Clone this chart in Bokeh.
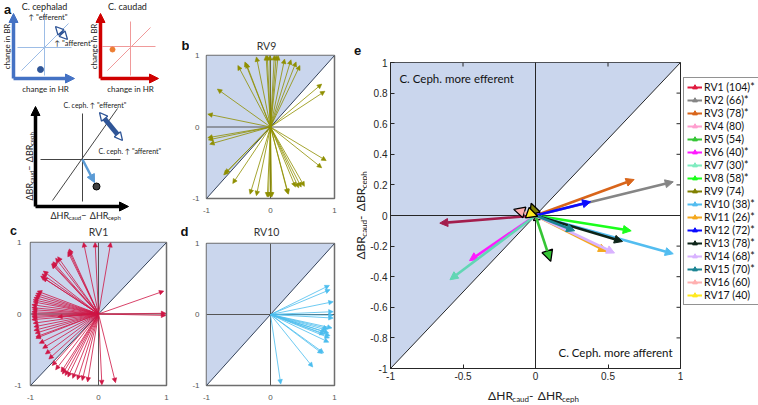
import numpy as np
from bokeh.plotting import figure
from bokeh.models import (ColumnDataSource, Arrow, NormalHead, Label, Range1d,
                          FixedTicker, Legend, LegendItem)
from bokeh.layouts import row, column
from bokeh.embed import file_html
from bokeh.resources import INLINE

# ---------------- data ----------------
e_labels = ["RV1 (104)*", "RV2 (66)*", "RV3 (78)*", "RV4 (80)", "RV5 (54)",
            "RV6 (40)*", "RV7 (30)*", "RV8 (58)*", "RV9 (74)", "RV10 (38)*",
            "RV11 (26)*", "RV12 (72)*", "RV13 (78)*", "RV14 (68)*", "RV15 (70)*",
            "RV16 (60)", "RV17 (40)"]
e_dx = [-0.66, 0.95, 0.68, 0.07, 0.105, -0.455, -0.59, 0.66, -0.03, 0.95,
        0.49, 0.38, 0.60, 0.545, 0.27, -0.15, 0.015]
e_dy = [-0.05, 0.22, 0.235, -0.02, -0.30, -0.295, -0.42, -0.10, 0.08, -0.25,
        -0.235, 0.09, -0.17, -0.245, -0.10, 0.04, -0.005]
e_signif = [True, True, True, False, False, True, True, True, False, True,
            True, True, True, True, True, False, False]
e_colors = ["#e01b3f", "#858585", "#d9651a", "#ff9fcf", "#35c535", "#ff1aff",
            "#7fecc0", "#1bff1b", "#808000", "#53bdf0", "#f4a81e", "#0b0bff",
            "#0d2418", "#d9b3ff", "#1b8493", "#ffb0b0", "#ffe91f"]
e_arrow_colors = ["#a31e4d"] + e_colors[1:6] + ["#62d6b4"] + e_colors[7:]

# panel b: RV9
b_dx = [-0.07, -0.05, -0.01, 0.06, 0.09, 0.12, -0.22, -0.40, -0.38, -0.51, 0.22, 0.32,
        0.40, 0.46, -0.83, 0.80, 0.85, -0.98, -0.98, -0.97, -0.95, -0.73, -0.71, -0.59,
        -0.32, -0.22, -0.05, -0.03, 0.0, 0.02, 0.27, 0.28, 0.39, 0.44, 0.48, 0.53, 0.80, 0.87]
b_dy = [1.0, 1.0, 1.0, 1.0, 1.0, 1.0, 0.98, 0.91, 0.89, 0.86, 0.95, 0.94,
        0.91, 0.86, 0.53, 0.60, 0.50, 0.18, -0.15, -0.18, -0.24, -0.67, -0.65, -0.79,
        -0.94, -0.96, -0.98, -0.98, -0.98, -0.98, -0.93, -0.94, -0.84, -0.85, -0.84, -0.83, -0.57, -0.47]
# panel c: RV1
c_dx = [-0.22, -0.05, 0.18, -0.44, -0.43, -0.45, -0.60, -0.63, -0.68, -0.69, -0.67, -0.81,
        -0.83, -0.85, -0.82, -0.90, -0.92, -0.93, -0.95, -0.96, -0.96, -0.98, -0.98, -0.97,
        -0.98, -0.98, -0.98, -0.97, -0.98, -0.60, -0.96, -0.95, -0.95, -0.93, -0.92, -0.92,
        -0.87, -0.82, -0.78, -0.73, -0.68, -0.63, -0.55, -0.53, -0.49, -0.45, -0.38, -0.31,
        -0.24, -0.16, 0.05, 0.25, 0.96, 0.99, 0.99]
c_dy = [1.0, 1.0, 1.0, 0.89, 0.91, 0.87, 0.80, 0.78, 0.71, 0.70, 0.73, 0.60,
        0.56, 0.53, 0.51, 0.32, 0.29, 0.26, 0.23, 0.20, 0.17, 0.13, 0.09, 0.06,
        0.03, 0.0, -0.03, -0.05, -0.08, -0.04, -0.13, -0.18, -0.23, -0.27, -0.32, -0.34,
        -0.41, -0.48, -0.56, -0.63, -0.72, -0.78, -0.81, -0.84, -0.86, -0.88, -0.90, -0.92,
        -0.93, -0.95, -0.99, -0.96, 0.32, 0.01, -0.02]
# panel d: RV10
d_dx = [0.92, 0.93, 0.98, 0.98, 0.98, 0.98, 0.96, 0.88, 0.91, 0.93, 0.92, 0.86, 0.84,
        0.91, 0.83, 0.81, 0.66, 0.16, 0.90]
d_dy = [0.41, 0.35, 0.18, 0.04, -0.01, -0.05, -0.19, -0.22, -0.26, -0.30, -0.33, -0.25,
        -0.28, -0.39, -0.54, -0.55, -0.74, -0.98, -0.20]

small_ticks = [-1, 0, 1]
e_xticks = [-1, -0.5, 0, 0.5, 1]
e_yticks = [-1, -0.8, -0.6, -0.4, -0.2, 0, 0.2, 0.4, 0.6, 0.8, 1]

# shaded region (above the identity line) and reference lines
shade_x = [-1, -1, 1]
shade_y = [-1, 1, 1]
diag_x = [-1, 1]
diag_y = [-1, 1]
zero_line = [0, 0]
full_line = [-1, 1]

SHADE = "#cad6ed"
FONT = "Lato"
TFONT = "Liberation Sans"

# ---------------- helpers ----------------
EM = {"Δ": 0.66, "H": 0.74, "B": 0.63, "R": 0.62, "c": 0.46, "a": 0.51, "u": 0.56,
      "d": 0.56, "e": 0.53, "p": 0.56, "h": 0.56, " ": 0.19, "-": 0.35, "−": 0.58}


def tw(s, size):
    return sum(EM.get(ch, 0.55) for ch in s) * size


def sub_label(p, pieces, start, base, vertical=False, color="#222222"):
    cur = start
    for txt, size, drop in pieces:
        if vertical:
            p.add_layout(Label(x=base + drop, y=cur, text=txt, angle=np.pi / 2,
                               text_font=FONT, text_font_size=f"{size}px", text_color=color,
                               text_align="left", text_baseline="alphabetic"))
            cur -= tw(txt, size)
        else:
            p.add_layout(Label(x=cur, y=base + drop, text=txt,
                               text_font=FONT, text_font_size=f"{size}px", text_color=color,
                               text_align="left", text_baseline="alphabetic"))
            cur += tw(txt, size)


def blank(w, h):
    p = figure(width=w, height=h, x_range=Range1d(0, w), y_range=Range1d(h, 0),
               output_backend="svg", toolbar_location=None, x_axis_type=None,
               y_axis_type=None, min_border=0, frame_align=False)
    p.grid.visible = False
    p.outline_line_color = None
    p.background_fill_color = "white"
    p.border_fill_color = "white"
    return p


def letter(p, x, y, t, size=13):
    p.add_layout(Label(x=x, y=y, text=t, text_font=TFONT, text_font_style="bold",
                       text_font_size=f"{size}px", text_color="#111111",
                       text_align="center", text_baseline="middle"))


def base_panel(width, height, ml, mr, mt, mb):
    p = figure(width=width, height=height, x_range=Range1d(-1, 1), y_range=Range1d(-1, 1),
               output_backend="svg", toolbar_location=None, frame_align=False,
               min_border_left=ml, min_border_right=mr, min_border_top=mt, min_border_bottom=mb)
    p.grid.visible = False
    p.background_fill_color = "white"
    p.border_fill_color = "white"
    p.patch(shade_x, shade_y, fill_color=SHADE, line_color=None)
    return p


def small_panel(width, height, ml, mr, mt, mb, standoff=3):
    p = base_panel(width, height, ml, mr, mt, mb)
    p.outline_line_color = "#6e6e6e"
    p.outline_line_width = 1.5
    p.line(full_line, zero_line, line_color="#555555", line_width=1)
    p.line(zero_line, full_line, line_color="#555555", line_width=1)
    p.line(diag_x, diag_y, line_color="#34425a", line_width=1)
    for ax in (p.xaxis[0], p.yaxis[0]):
        ax.ticker = FixedTicker(ticks=small_ticks)
        ax.major_label_overrides = {t: str(t) for t in small_ticks}
        ax.axis_line_color = None
        ax.major_tick_line_color = None
        ax.minor_tick_line_color = None
        ax.major_label_text_font = TFONT
        ax.major_label_text_font_size = "8px"
        ax.major_label_text_color = "#555555"
        ax.major_label_standoff = 3
    p.yaxis[0].major_label_standoff = standoff
    return p


def fan(p, dx, dy, color):
    n = len(dx)
    src = ColumnDataSource(dict(x0=np.zeros(n), y0=np.zeros(n), x1=dx, y1=dy))
    p.add_layout(Arrow(source=src, x_start="x0", y_start="y0", x_end="x1", y_end="y1",
                       line_color=color, line_width=0.9, line_alpha=0.9,
                       end=NormalHead(size=4.5, fill_color=color, line_color=color,
                                      line_width=0.6)))


def header(w, h, title, tx, ty):
    p = blank(w, h)
    p.add_layout(Label(x=tx, y=ty, text=title, text_font=FONT,
                       text_font_size="10.5px", text_color="#333333",
                       text_align="center", text_baseline="middle"))
    return p


# ---------------- panel a (schematic, pixel coordinates) ----------------
pa = blank(180, 221)

axes_blue = dict(x0=[13, 13], y0=[78, 78], x1=[13, 74], y1=[13, 78])
axes_red = dict(x0=[100, 100], y0=[78, 78], x1=[100, 158], y1=[13, 78])
axes_black = dict(x0=[35, 35], y0=[206, 206], x1=[35, 128], y1=[106, 206])
thin_blue = dict(x0=[44, 17, 21], y0=[12, 47, 70], x1=[44, 71, 68], y1=[75, 47, 23])
thin_red = dict(x0=[130, 102, 107], y0=[21, 46, 70], x1=[130, 155, 150], y1=[75, 46, 27])
thin_black = dict(x0=[82, 40, 52], y0=[113, 159, 200], x1=[82, 120, 117], y1=[201, 159, 108])
dbl_arrows = dict(x0=[55, 99], y0=[26, 112], x1=[67, 122], y1=[39, 140])
shift_arrow = dict(x0=[82], y0=[159], x1=[94], y1=[182])
dots = dict(x=[40, 112, 96], y=[69, 49, 186], c=["#2f5597", "#ed7d31", "#404040"],
            lc=["#2f5597", "#ed7d31", "#000000"], s=[6, 5, 7])

for d, col in ((thin_blue, "#9dbde6"), (thin_red, "#f09a9a"), (thin_black, "#444444")):
    pa.segment(x0="x0", y0="y0", x1="x1", y1="y1", source=ColumnDataSource(d),
               line_color=col, line_width=1)
for d, col in ((axes_blue, "#4472c4"), (axes_red, "#d00000"), (axes_black, "#000000")):
    pa.add_layout(Arrow(source=ColumnDataSource(d), x_start="x0", y_start="y0",
                        x_end="x1", y_end="y1", line_color=col, line_width=3.5,
                        end=NormalHead(size=9, fill_color=col, line_color=col)))
DB = "#2f5597"
pa.add_layout(Arrow(source=ColumnDataSource(dbl_arrows), x_start="x0", y_start="y0",
                    x_end="x1", y_end="y1", line_color=DB, line_width=5,
                    start=NormalHead(size=8, fill_color="white", line_color=DB, line_width=1.3),
                    end=NormalHead(size=8, fill_color="white", line_color=DB, line_width=1.3)))
ix0, iy0, ix1, iy1 = [], [], [], []
for a0, b0, a1, b1 in zip(dbl_arrows["x0"], dbl_arrows["y0"], dbl_arrows["x1"], dbl_arrows["y1"]):
    L = np.hypot(a1 - a0, b1 - b0)
    ux, uy = (a1 - a0) / L, (b1 - b0) / L
    ix0.append(a0 + ux * 7); iy0.append(b0 + uy * 7)
    ix1.append(a1 - ux * 7); iy1.append(b1 - uy * 7)
pa.segment(x0=ix0, y0=iy0, x1=ix1, y1=iy1, line_color="white", line_width=2.2)
pa.add_layout(Arrow(source=ColumnDataSource(shift_arrow), x_start="x0", y_start="y0",
                    x_end="x1", y_end="y1", line_color="#5b9bd5", line_width=2.5,
                    end=NormalHead(size=8, fill_color="#5b9bd5", line_color="#5b9bd5")))
pa.scatter(x="x", y="y", fill_color="c", line_color="lc", size="s",
           source=ColumnDataSource(dots))


def atext(x, y, t, size=8.5, align="left", angle=0.0, color="#222222"):
    pa.add_layout(Label(x=x, y=y, text=t, text_font=FONT, text_font_size=f"{size}px",
                        text_color=color, text_align=align, text_baseline="middle",
                        angle=angle))


letter(pa, 7, 9, "a")
atext(44, 6, "C. cephalad", 9, "center")
atext(127, 6, "C. caudad", 9, "center")
atext(45, 88, "change in HR", 8, "center")
atext(130, 88, "change in HR", 8, "center")
atext(6, 46, "change in BR", 8, "center", np.pi / 2)
atext(93, 46, "change in BR", 8, "center", np.pi / 2)
atext(28, 17, "\u2191 \"efferent\"", 7.5)
atext(54, 43, "\u2191 \"afferent\"", 7.5)
atext(63, 104, "C. ceph. \u2191 \"efferent\"", 7)
atext(98, 150, "C. ceph. \u2191 \"afferent\"", 7)
sub_label(pa, [("ΔHR", 9, 0), ("caud", 6, 2), (" − ", 9, 0), ("ΔHR", 9, 0), ("ceph", 6, 2)],
          50, 214.5)
sub_label(pa, [("ΔBR", 9, 0), ("caud", 6, 2), (" − ", 9, 0), ("ΔBR", 9, 0), ("ceph", 6, 2)],
          200, 29, vertical=True)

# ---------------- panels b, c, d ----------------
hc = header(180, 17, "RV1", 98, 10)
letter(hc, 13, 9.5, "c", 12.5)
pc = small_panel(180, 167, 30, 14, 4, 20)
fan(pc, c_dx, c_dy, "#cf1645")

# narrow strip holding the letters b and d
lbd = blank(9, 405)
letter(lbd, 5, 45, "b")
letter(lbd, 4, 231, "d")

hb = header(156, 50, "RV9", 77, 45)
pb = small_panel(156, 171, 9, 11, 5, 23, standoff=1)
fan(pb, b_dx, b_dy, "#8f8f00")

hd = header(156, 17, "RV10", 77, 10)
pd_ = small_panel(156, 167, 9, 11, 5, 20, standoff=1)
fan(pd_, d_dx, d_dy, "#4cbdee")

# ---------------- panel e ----------------
pe = base_panel(316, 384, 21, 3, 62, 16)
pe.outline_line_color = "#262626"
pe.outline_line_width = 1
pe.line(full_line, zero_line, line_color="#262626", line_width=1)
pe.line(zero_line, full_line, line_color="#262626", line_width=1)
pe.line(diag_x, diag_y, line_color="#111111", line_width=0.9)
for ax, ticks in ((pe.xaxis[0], e_xticks), (pe.yaxis[0], e_yticks)):
    ax.ticker = FixedTicker(ticks=ticks)
    ax.major_label_overrides = {t: f"{t:g}" for t in ticks}
    ax.axis_line_color = "#262626"
    ax.major_tick_line_color = "#262626"
    ax.major_tick_in = 4
    ax.major_tick_out = 0
    ax.minor_tick_line_color = None
    ax.major_label_text_font = TFONT
    ax.major_label_text_font_size = "10px"
    ax.major_label_text_color = "#262626"
    ax.major_label_standoff = 3

# mirrored inward tick marks on the top and right edges (box style), 4 px long
tick_dx = 4 * 2 / 292
tick_dy = 4 * 2 / 306
pe.segment(x0=[1 - tick_dx] * len(e_yticks), y0=e_yticks, x1=[1] * len(e_yticks), y1=e_yticks,
           line_color="#262626", line_width=1)
pe.segment(x0=e_xticks, y0=[1 - tick_dy] * len(e_xticks), x1=e_xticks, y1=[1] * len(e_xticks),
           line_color="#262626", line_width=1)

for i in range(len(e_labels)):
    col = e_arrow_colors[i]
    src = ColumnDataSource(dict(x0=[0.0], y0=[0.0], x1=[e_dx[i]], y1=[e_dy[i]]))
    if e_signif[i]:
        head = NormalHead(size=8, fill_color=col, line_color=col, line_width=1)
    else:
        head = NormalHead(size=11, fill_color=col, line_color="black", line_width=1.3)
    pe.add_layout(Arrow(source=src, x_start="x0", y_start="y0", x_end="x1", y_end="y1",
                        line_color=col, line_width=2.6, end=head))

pe.add_layout(Label(x=-1 + 2 * 9 / 292, y=1 - 2 * 16 / 306, text="C. Ceph. more efferent",
                    text_font=FONT, text_font_size="11.5px", text_color="#111111",
                    text_align="left", text_baseline="middle"))
pe.add_layout(Label(x=1 - 2 * 8 / 292, y=-1 + 2 * 16 / 306, text="C. Ceph. more afferent",
                    text_font=FONT, text_font_size="11.5px", text_color="#111111",
                    text_align="right", text_baseline="middle"))

# legend strip to the right of panel e (legend-only renderers hold no visible points)
le = blank(75, 384)
legend_items = []
for i in range(len(e_labels)):
    r1 = le.segment(x0=[np.nan], y0=[np.nan], x1=[np.nan], y1=[np.nan],
                    line_color=e_colors[i], line_width=2)
    r2 = le.scatter(x=[np.nan], y=[np.nan], marker="triangle", angle=-np.pi / 2, size=6,
                    fill_color=e_colors[i], line_color=e_colors[i])
    legend_items.append(LegendItem(label=e_labels[i], renderers=[r1, r2]))
legend = Legend(items=legend_items, location=(0, 79), orientation="vertical",
                border_line_color="#262626", border_line_width=1,
                background_fill_color="white", background_fill_alpha=1.0,
                label_text_font=FONT, label_text_font_size="10.5px", label_text_color="#111111",
                glyph_width=15, glyph_height=12, label_height=12, spacing=1, padding=3,
                margin=0, label_standoff=2)
le.add_layout(legend, "center")

# y-label strip (left of panel e) and x-label strip (below panel e)
ye = blank(22, 405)
letter(ye, 12, 50, "e")
yl = [("ΔBR", 12, 0), ("caud", 8, 3), (" - ", 12, 0), ("ΔBR", 12, 0), ("ceph", 8, 3)]
yl_w = sum(tw(t, s) for t, s, _ in yl)
sub_label(ye, yl, 215 + yl_w / 2, 15, vertical=True)

xe = blank(391, 21)
xl = [("ΔHR", 12, 0), ("caud", 8, 3), (" - ", 12, 0), ("ΔHR", 12, 0), ("ceph", 8, 3)]
xl_w = sum(tw(t, s) for t, s, _ in xl)
sub_label(xe, xl, (533 - 367) - xl_w / 2, 11)

layout = row(column(pa, hc, pc), lbd, column(hb, pb, hd, pd_), ye,
             column(row(pe, le), xe))
open("out.html", "w").write(file_html(layout, INLINE))
